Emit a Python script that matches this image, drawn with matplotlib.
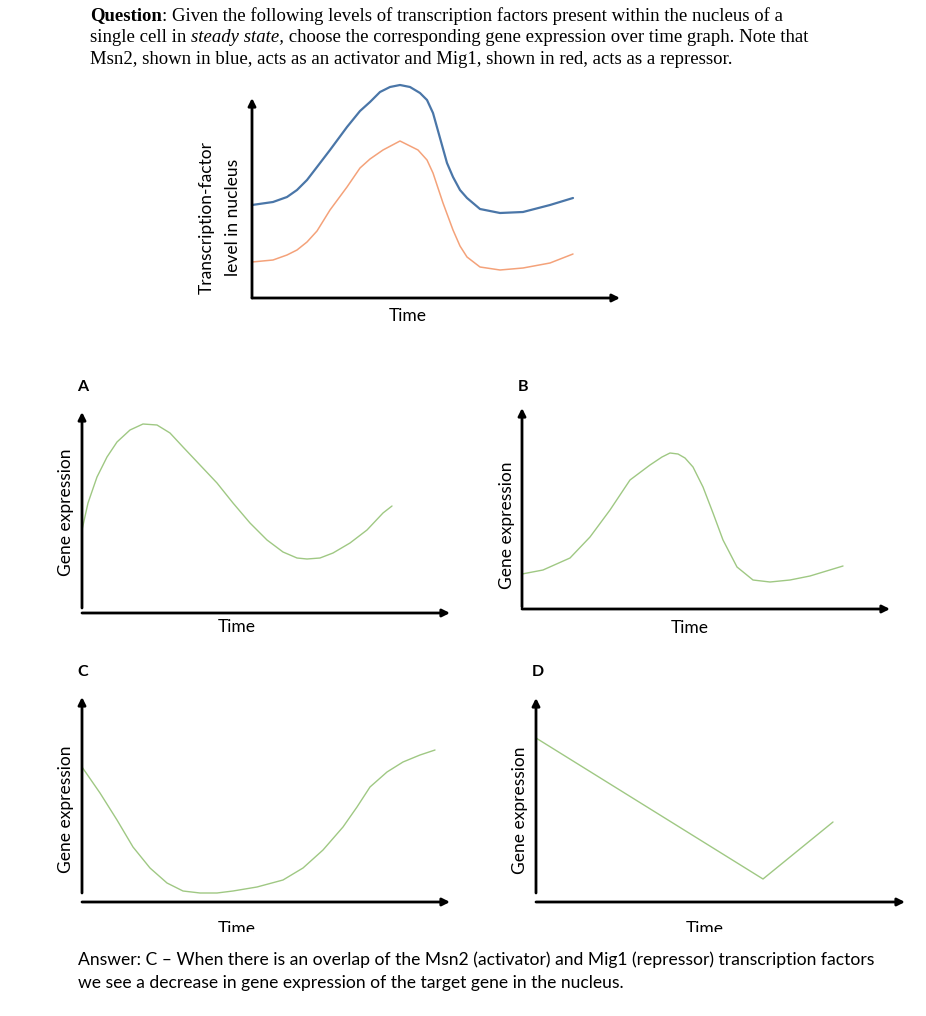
import numpy as np
import matplotlib
matplotlib.use("Agg")
import matplotlib.pyplot as plt
from matplotlib.transforms import Bbox

W, H = 926, 1016

# ---- data (time / level in arbitrary units) ----
msn2_time = [0, 21, 35, 45, 55, 65, 78, 95, 108, 118, 128, 138, 148, 158, 168, 175, 181, 188, 195, 201, 208, 215, 228, 248, 271, 298, 321]
msn2 = [93, 96, 101, 108, 118, 131, 148, 171, 187, 196, 206, 211, 213, 211, 205, 198, 185, 160, 135, 121, 108, 100, 89, 85, 86, 93, 100]
mig1_time = [0, 21, 35, 45, 55, 65, 78, 95, 108, 118, 131, 148, 166, 175, 181, 191, 201, 208, 215, 228, 248, 271, 298, 321]
mig1 = [36, 38, 43, 48, 56, 67, 88, 111, 130, 139, 148, 157, 148, 138, 125, 95, 68, 52, 41, 31, 28, 30, 35, 44]

a_time = [0, 6, 15, 25, 35, 48, 61, 75, 88, 101, 118, 135, 151, 168, 185, 201, 215, 225, 238, 251, 268, 285, 301, 310]
a_expr = [83, 110, 136, 156, 171, 183, 189, 188, 180, 166, 148, 130, 110, 90, 73, 61, 55, 54, 55, 60, 70, 83, 100, 107]

b_time = [0, 21, 48, 68, 88, 108, 128, 140, 148, 156, 163, 171, 181, 191, 201, 215, 231, 248, 268, 288, 321]
b_expr = [35, 39, 51, 72, 99, 129, 144, 152, 156, 155, 151, 142, 122, 96, 69, 42, 29, 27, 29, 33, 43]

c_time = [0, 18, 35, 51, 68, 85, 101, 118, 135, 151, 175, 201, 221, 241, 261, 275, 288, 305, 321, 338, 353]
c_expr = [135, 109, 82, 55, 34, 19, 11, 9, 9, 11, 15, 22, 34, 52, 75, 95, 115, 130, 140, 147, 152]

d_time = [0, 227, 297]
d_expr = [164, 23, 80]

BLUE = "#4a76a8"
ORANGE = "#f4a27a"
GREEN = "#9fc883"
SANS = "Lato"

fig = plt.figure(figsize=(W / 100, H / 100), dpi=100)


def panel(x0, y0, x1, y1, gap=0):
    # x0,y0 = origin in pixels, x1 = x arrow tip, y1 = y arrow tip
    ax = fig.add_axes([x0 / W, 1 - y0 / H, (x1 - x0) / W, (y0 - y1) / H])
    ax.set_xlim(0, x1 - x0)
    ax.set_ylim(0, y0 - y1)
    ax.axis("off")
    ap = dict(arrowstyle="-|>", lw=2, color="black", mutation_scale=11, shrinkA=0, shrinkB=0)
    ax.annotate("", xy=(1, 0), xytext=(0, 0), xycoords="axes fraction", arrowprops=ap)
    ax.annotate("", xy=(0, 1), xytext=(0, gap / (y0 - y1)), xycoords="axes fraction", arrowprops=ap)
    return ax


def ftext(x, y, s, **kw):
    return fig.text(x / W, 1 - y / H, s, **kw)


line_kw = dict(clip_on=False, solid_joinstyle="round", solid_capstyle="round")

# top: transcription factor levels
ax = panel(252, 298, 620, 98)
ax.plot(msn2_time, msn2, color=BLUE, lw=1.6, **line_kw)
ax.plot(mig1_time, mig1, color=ORANGE, lw=1.1, **line_kw)
ftext(207, 217, "Transcription-factor", rotation=90, ha="center", va="center", fontsize=12.5, family=SANS)
ftext(233, 217, "level in nucleus", rotation=90, ha="center", va="center", fontsize=12.5, family=SANS)
ftext(408, 316, "Time", ha="center", va="center", fontsize=12.5, family=SANS)

# A
ax = panel(82, 613, 450, 412, gap=5)
ax.plot(a_time, a_expr, color=GREEN, lw=1.0, **line_kw)
# B
ax = panel(522, 609, 890, 408, gap=2)
ax.plot(b_time, b_expr, color=GREEN, lw=1.0, **line_kw)
# C
ax = panel(82, 902, 450, 697, gap=9)
ax.plot(c_time, c_expr, color=GREEN, lw=1.0, **line_kw)
# D
ax = panel(536, 902, 905, 698, gap=9)
ax.plot(d_time, d_expr, color=GREEN, lw=1.0, **line_kw)

for lab, x, y in [("A", 83, 387), ("B", 523, 387), ("C", 83, 672), ("D", 538, 672)]:
    ftext(x, y, lab, ha="center", va="center", fontsize=11.5, weight="bold", family=SANS)
for x, y in [(66, 512), (507, 525), (66, 809), (520, 810)]:
    ftext(x, y, "Gene expression", rotation=90, ha="center", va="center", fontsize=12.5, family=SANS)
for x, y in [(237, 627), (690, 628)]:
    ftext(x, y, "Time", ha="center", va="center", fontsize=12.5, family=SANS)
# the lower "Time" labels are cut off at the bottom in the original
clip = Bbox.from_extents(0, H - 932, W, H)
for x, y in [(237, 929), (705, 929)]:
    t = ftext(x, y, "Time", ha="center", va="center", fontsize=12.5, family=SANS)
    t.set_clip_box(clip)
    t.set_clip_on(True)

# question text, with mixed bold / italic runs
renderer = fig.canvas.get_renderer()


def runs(x, y, parts, **kw):
    for s, style in parts:
        t = ftext(x, y, s, ha="left", va="center", **kw, **style)
        bb = t.get_window_extent(renderer)
        x += bb.width


serif = dict(fontsize=13.5, family="Liberation Serif")
runs(90, 16, [("Question", dict(weight="bold")),
              (": Given the following levels of transcription factors present within the nucleus of a", {})], **serif)
runs(90, 38, [("single cell in ", {}), ("steady state,", dict(style="italic")),
              (" choose the corresponding gene expression over time graph. Note that", {})], **serif)
runs(90, 59, [("Msn2, shown in blue, acts as an activator and Mig1, shown in red, acts as a repressor.", {})], **serif)

ftext(78, 960, "Answer: C \u2013 When there is an overlap of the Msn2 (activator) and Mig1 (repressor) transcription factors",
      ha="left", va="center", fontsize=12.6, family=SANS)
ftext(78, 983, "we see a decrease in gene expression of the target gene in the nucleus.",
      ha="left", va="center", fontsize=12.6, family=SANS)

fig.savefig("out.png", dpi=100)
